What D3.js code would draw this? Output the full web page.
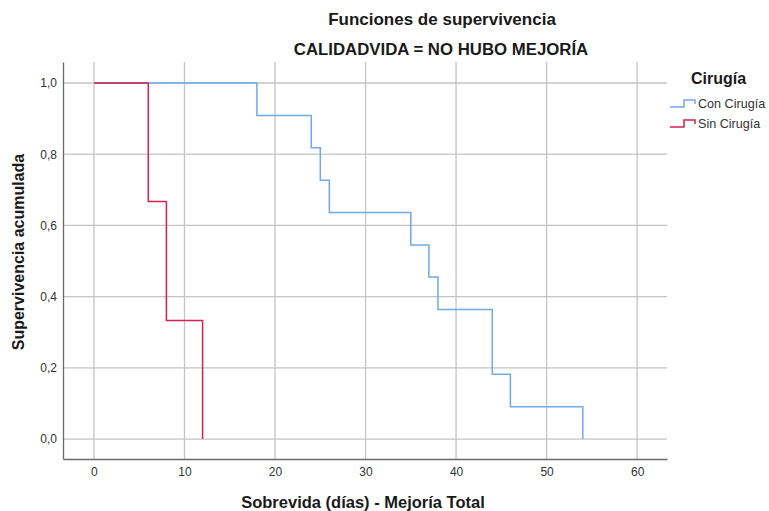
<!DOCTYPE html>
<html>
<head>
<meta charset="utf-8">
<script src="https://cdn.jsdelivr.net/npm/d3@7"></script>
<style>
  body { margin: 0; background: #fff; }
  svg { display: block; font-family: "Liberation Sans", Arial, sans-serif; }
</style>
</head>
<body>
<svg id="chart" width="769" height="511"></svg>
<script>
// Kaplan-Meier step data: event times (days) and cumulative survival after each event
const groups = ["Con Cirugía", "Sin Cirugía"];
const conTimes = [0, 18, 24, 25, 26, 35, 37, 38, 44, 46, 54];
const conSurv  = [1, 0.909, 0.818, 0.727, 0.636, 0.545, 0.455, 0.364, 0.182, 0.091, 0];
const sinTimes = [0, 6, 8, 12];
const sinSurv  = [1, 0.667, 0.333, 0];
const xTicks = [0, 10, 20, 30, 40, 50, 60];
const yTicks = [0, 0.2, 0.4, 0.6, 0.8, 1.0];
const colors = ["#72a8ee", "#d8214f"];

const svg = d3.select("#chart");
const plot = { left: 63, right: 667, top: 62, bottom: 459 };

const x = d3.scaleLinear().domain([-3.42, 63.3]).range([plot.left, plot.right]);
const y = d3.scaleLinear().domain([-0.056, 1.059]).range([plot.bottom, plot.top]);

// grid lines
const grid = svg.append("g");
grid.selectAll(".vg").data(xTicks).join("line")
  .attr("x1", d => x(d)).attr("x2", d => x(d))
  .attr("y1", plot.top).attr("y2", plot.bottom)
  .attr("stroke", "#c4c4c4").attr("stroke-width", 1.3);
grid.selectAll(".hg").data(yTicks).join("line")
  .attr("x1", plot.left).attr("x2", plot.right)
  .attr("y1", d => y(d)).attr("y2", d => y(d))
  .attr("stroke", "#c4c4c4").attr("stroke-width", 1.3);

// axes
const xAxis = d3.axisBottom(x).tickValues(xTicks).tickSize(0).tickPadding(8)
  .tickFormat(d3.format("d"));
const yAxis = d3.axisLeft(y).tickValues(yTicks).tickSize(0).tickPadding(6)
  .tickFormat(d => d3.format(".1f")(d).replace(".", ","));

const gx = svg.append("g").attr("transform", `translate(0,${plot.bottom})`).call(xAxis);
const gy = svg.append("g").attr("transform", `translate(${plot.left},0)`).call(yAxis);
[gx, gy].forEach(g => {
  g.select(".domain").attr("stroke", "#6a6a6a").attr("stroke-width", 1.3);
  g.selectAll("text").attr("fill", "#333").style("font-size", "12px")
    .style("font-family", "'Liberation Sans', Arial, sans-serif");
});

// survival step curves
const line = d3.line().x(d => x(d[0])).y(d => y(d[1])).curve(d3.curveStepAfter);
const series = [
  conTimes.map((t, i) => [t, conSurv[i]]),
  sinTimes.map((t, i) => [t, sinSurv[i]])
];
series.forEach((s, i) => {
  svg.append("path").datum(s).attr("d", line)
    .attr("fill", "none").attr("stroke", colors[i]).attr("stroke-width", 1.5);
});

// titles
svg.append("text").attr("x", 442).attr("y", 25).attr("text-anchor", "middle")
  .style("font-size", "17px").style("font-weight", "bold").attr("fill", "#1a1a1a")
  .text("Funciones de supervivencia");
svg.append("text").attr("x", 441).attr("y", 55).attr("text-anchor", "middle")
  .style("font-size", "16.8px").style("font-weight", "bold").attr("fill", "#1a1a1a")
  .text("CALIDADVIDA = NO HUBO MEJORÍA");

// axis titles
svg.append("text").attr("x", 363).attr("y", 508).attr("text-anchor", "middle")
  .style("font-size", "16.5px").style("font-weight", "bold").attr("fill", "#1a1a1a")
  .text("Sobrevida (días) - Mejoría Total");
svg.append("text").attr("transform", "translate(24,252) rotate(-90)").attr("text-anchor", "middle")
  .style("font-size", "16px").style("font-weight", "bold").attr("fill", "#1a1a1a")
  .text("Supervivencia acumulada");

// legend
const lg = svg.append("g");
lg.append("text").attr("x", 691).attr("y", 84)
  .style("font-size", "16px").style("font-weight", "bold").attr("fill", "#1a1a1a")
  .text("Cirugía");
groups.forEach((g, i) => {
  const yy = 104 + i * 20;
  lg.append("path")
    .attr("d", `M670,${yy + 3}H684V${yy - 4}H695V${yy}`)
    .attr("fill", "none").attr("stroke", colors[i]).attr("stroke-width", 1.5);
  lg.append("text").attr("x", 698).attr("y", yy + 4)
    .style("font-size", "12.6px").attr("fill", "#333").text(g);
});
</script>
</body>
</html>
